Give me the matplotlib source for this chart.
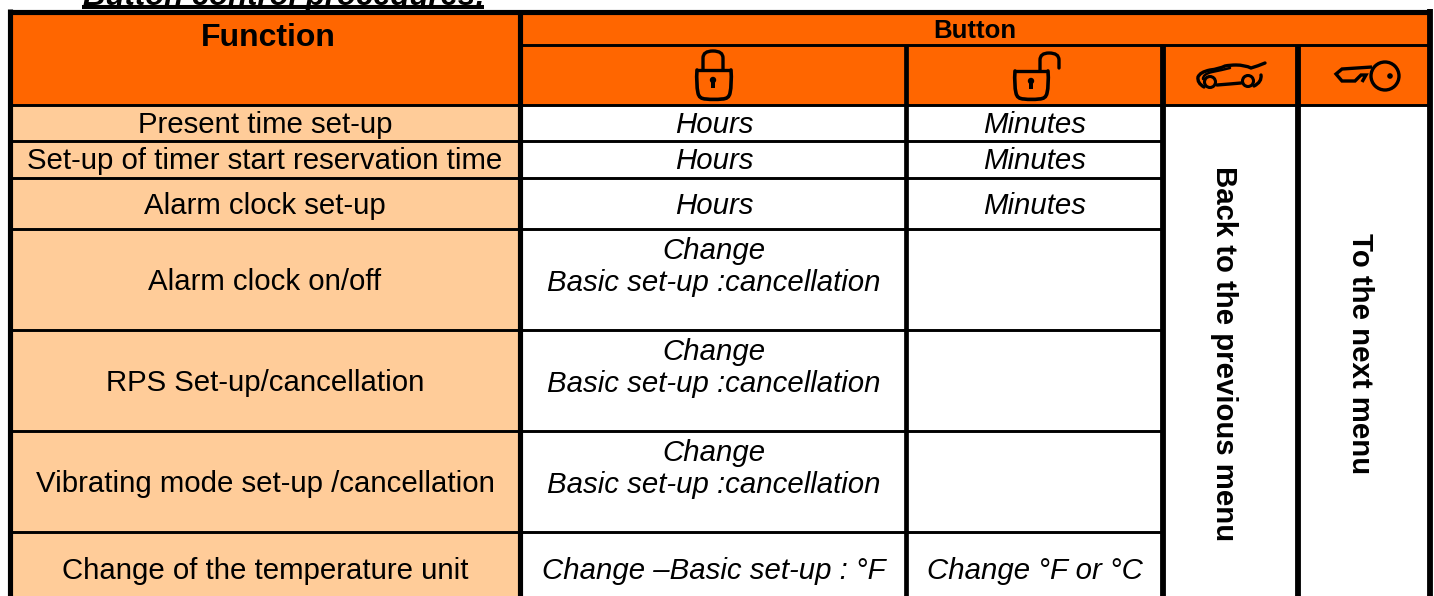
import matplotlib
matplotlib.use("Agg")
import matplotlib.pyplot as plt
from matplotlib.patches import Rectangle, Circle, PathPatch
from matplotlib.path import Path

ORANGE = "#FF6600"
PEACH = "#FFCC99"

functions = [
    "Present time set-up",
    "Set-up of timer start reservation time",
    "Alarm clock set-up",
    "Alarm clock on/off",
    "RPS Set-up/cancellation",
    "Vibrating mode set-up /cancellation",
    "Change of the temperature unit",
]
lock_col = [
    "Hours",
    "Hours",
    "Hours",
    "Change\nBasic set-up :cancellation",
    "Change\nBasic set-up :cancellation",
    "Change\nBasic set-up :cancellation",
    "Change \u2013Basic set-up : \u00b0F",
]
unlock_col = ["Minutes", "Minutes", "Minutes", "", "", "", "Change \u00b0F or \u00b0C"]
car_text = "Back to the previous menu"
key_text = "To the next menu"

col_x = [9.5, 520, 906, 1163, 1298, 1430]
row_y = [11.5, 45, 104.5, 141, 178, 229, 330, 431, 532]
row_centers = [125, 161, 206, 282, 383, 484, 571]
lock_centers = [125, 161, 206, 267, 368, 469, 571]

fig = plt.figure(figsize=(14.34, 5.96), dpi=100)
ax = fig.add_axes([0, 0, 1, 1])
ax.set_xlim(0, 1434)
ax.set_ylim(596, 0)
ax.axis("off")
plt.rcParams["font.family"] = ["Liberation Sans", "DejaVu Sans"]


def line(xs, ys, lw=2.0, color="black"):
    ax.plot(xs, ys, color=color, lw=lw, solid_capstyle="butt", solid_joinstyle="miter", zorder=5)


def smooth(verts, lw=2.2):
    # quadratic chain, verts has to be 1 + 2n points
    codes = [Path.MOVETO] + [Path.CURVE3] * (len(verts) - 1)
    ax.add_patch(PathPatch(Path(verts, codes), fc="none", ec="black", lw=lw, zorder=6, capstyle="round"))


def keyhole(cx, cy):
    ax.add_patch(Circle((cx, cy), 3.2, fc="black", ec="none", zorder=6))
    ax.add_patch(Rectangle((cx - 1.8, cy), 3.6, 8, fc="black", ec="none", zorder=6))


def lock_body(x0, x1, y0, y1):
    line([x0, x1], [y0, y0], lw=2.4)
    smooth([(x0, y0), (x0 - 1, y0 + 14), (x0 + 1, y1 - 6), (x0 + 2, y1), (x0 + 9, y1),
            ((x0 + x1) / 2, y1 + 1), (x1 - 9, y1), (x1 - 2, y1), (x1 - 1, y1 - 6),
            (x1 + 1, y0 + 14), (x1, y0)], lw=2.6)


def draw_car():
    ax.add_patch(Circle((1210, 82), 5.5, fc="none", ec="black", lw=2.2, zorder=6))
    ax.add_patch(Circle((1248, 81), 5.5, fc="none", ec="black", lw=2.2, zorder=6))
    smooth([(1204, 87), (1197, 83), (1198, 77), (1200, 72), (1210, 70), (1219, 69),
            (1225, 66), (1230, 65), (1236, 65), (1245, 65), (1251, 68), (1258, 66), (1265, 63)], lw=2.4)
    smooth([(1203, 79), (1203, 74), (1212, 72), (1222, 70), (1230, 68)], lw=1.8)
    smooth([(1217, 85), (1230, 84), (1241, 83)], lw=2.4)
    smooth([(1254, 86), (1262, 82), (1261, 75)], lw=2.4)


def draw_key():
    ax.add_patch(Circle((1385, 76), 14, fc="none", ec="black", lw=2.4, zorder=6))
    ax.add_patch(Circle((1390, 76), 2.8, fc="black", ec="none", zorder=6))
    line([1372, 1342, 1336, 1342, 1355, 1361, 1366, 1362], [67, 69, 74, 81, 81, 75, 75, 82], lw=2.4)


# cell fills
ax.add_patch(Rectangle((col_x[0], row_y[0]), col_x[-1] - col_x[0], row_y[2] - row_y[0], fc=ORANGE, ec="none"))
ax.add_patch(Rectangle((col_x[0], row_y[2]), col_x[1] - col_x[0], 596 - row_y[2], fc=PEACH, ec="none"))

# thin row rules
for y in row_y[2:]:
    line([col_x[0], col_x[3]], [y, y], lw=2.1)
line([col_x[1], col_x[-1]], [row_y[1], row_y[1]], lw=2.1)
line([col_x[3], col_x[-1]], [row_y[2], row_y[2]], lw=2.1)

# heavy column and outer rules
line([col_x[0], col_x[0]], [row_y[0] - 2.5, 596], lw=3.7)
line([col_x[1], col_x[1]], [row_y[0], 596], lw=3.7)
line([col_x[2], col_x[2]], [row_y[1], 596], lw=3.4)
line([col_x[3], col_x[3]], [row_y[1], 596], lw=4.2)
line([col_x[4], col_x[4]], [row_y[1], 596], lw=4.2)
line([col_x[5], col_x[5]], [row_y[0] - 2.5, 596], lw=4.2)
line([col_x[0], col_x[5]], [row_y[0], row_y[0]], lw=3.7)

# section title, cut off by the top of the page
ax.text(284, 5, "Button control procedures:", fontsize=22.4, fontweight="bold", fontstyle="italic",
        ha="center", va="baseline", zorder=4)
line([82, 484], [7, 7], lw=2.9)

# header
ax.text(268, 38, "Function", fontsize=23, fontweight="bold", ha="center", va="center", zorder=7)
ax.text(975, 31, "Button", fontsize=18.5, fontweight="bold", ha="center", va="center", zorder=7)

# body
for name, a, b, yc, ya in zip(functions, lock_col, unlock_col, row_centers, lock_centers):
    ax.text(265, yc, name, fontsize=21.2, ha="center", va="center", zorder=7)
    ax.text(714, ya, a, fontsize=21.2, fontstyle="italic", ha="center", va="center", linespacing=1.22, zorder=7)
    if b:
        ax.text(1035, yc, b, fontsize=21.2, fontstyle="italic", ha="center", va="center", zorder=7)

ax.text(1224, 354, car_text, fontsize=21.2, fontweight="bold", rotation=270, ha="center", va="center", zorder=7)
ax.text(1360, 354, key_text, fontsize=21.2, fontweight="bold", rotation=270, ha="center", va="center", zorder=7)

# icons
lock_body(697, 731, 70, 99)
smooth([(703, 69), (703, 64), (703, 58), (703, 51), (713, 51), (723, 51), (723, 58), (723, 64), (723, 69)], lw=2.4)
keyhole(713, 80)
lock_body(1015, 1048, 71, 99)
smooth([(1040, 70), (1040, 64), (1040, 60), (1040, 53), (1049, 53), (1059, 53), (1059, 60), (1059, 64), (1059, 68)], lw=2.4)
keyhole(1031, 81)
draw_car()
draw_key()

fig.savefig("out.png", dpi=100, facecolor="white")
